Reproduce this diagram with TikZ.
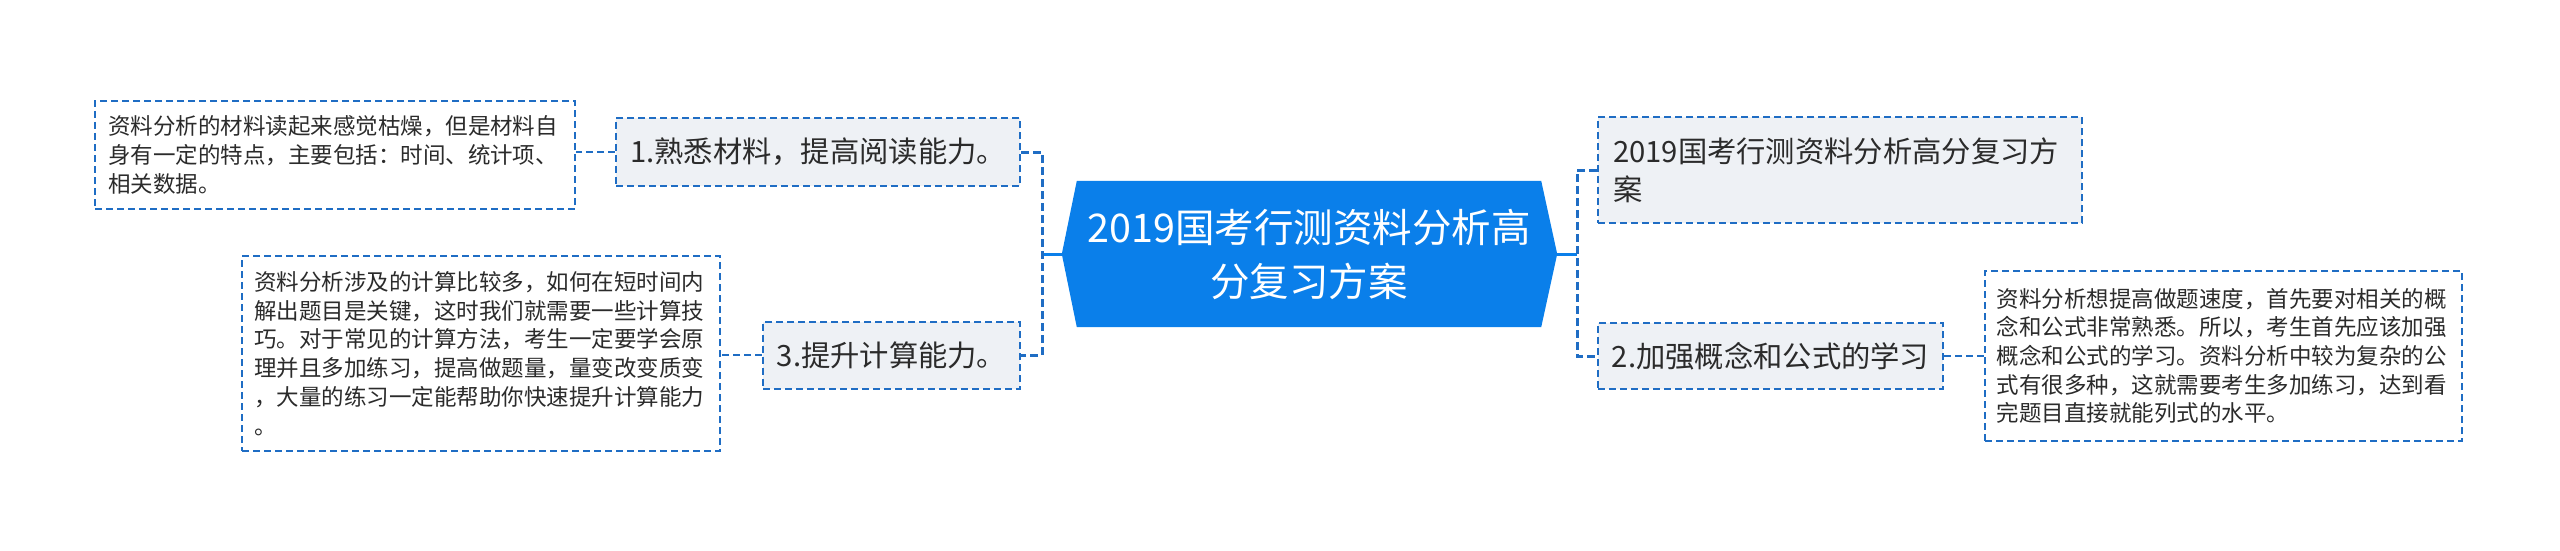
\documentclass[tikz,border=0pt]{standalone}
\usepackage{fontspec}
\setmainfont{Noto Sans CJK SC}
\usetikzlibrary{backgrounds,calc}
\definecolor{rootblue}{HTML}{0A7FEA}
\definecolor{dashblue}{HTML}{1F6DC4}
\definecolor{topicfill}{HTML}{EEF1F5}
\definecolor{inkgrey}{HTML}{2B2B2B}

\begin{document}
\begin{tikzpicture}[x=1pt,y=-1pt]
\tikzstyle{dline}=[draw=dashblue,line width=2pt,dash pattern=on 7pt off 4pt]
\tikzstyle{trunk}=[draw=dashblue,line width=3pt,dash pattern=on 8pt off 4pt]
\tikzstyle{sline}=[draw=rootblue,line width=3pt]
\tikzstyle{root}=[inner sep=0pt,minimum width=464pt,minimum height=146pt,align=center,text=white,font=\fontsize{39.5}{54}\selectfont]
\tikzstyle{topic}=[dline,fill=topicfill,inner sep=0pt,text=inkgrey,font=\fontsize{29.3}{38}\selectfont]
\tikzstyle{leaf}=[dline,fill=white,inner ysep=0pt,text width=454pt,align=left,text=inkgrey,font=\fontsize{22.5}{28.7}\selectfont]
\useasboundingbox (0,0) rectangle (2560,551);

\node[root] (v0) at (1309,254) {2019国考行测资料分析高\\分复习方案};
\begin{pgfonlayer}{background}
\fill[rootblue] (v0.north west) -- (v0.north east) -- ($(v0.east)+(16,0)$) -- (v0.south east) -- (v0.south west) -- ($(v0.west)+(-15,0)$) -- cycle;
\end{pgfonlayer}
\coordinate (a0) at ($(v0.west)+(-15,0)$);
\coordinate (b0) at ($(v0.east)+(16,0)$);
\coordinate (k1) at (1042,254);
\coordinate (k2) at (1577,254);

\node[topic,minimum width=404pt,minimum height=68pt] (v1) at (818,152) {1.熟悉材料，提高阅读能力。};
\node[topic,minimum width=257pt,minimum height=67pt] (v3) at (891.5,355) {3.提升计算能力。};
\node[topic,inner xsep=15pt,text width=454pt,align=left,minimum height=106pt] (v4) at (1840,170) {2019国考行测资料分析高分复习方\\案};
\node[topic,minimum width=345pt,minimum height=66pt] (v2) at (1770.5,356) {2.加强概念和公式的学习};

\node[leaf,inner xsep=13pt,minimum height=108pt] (w1) at (335,155) {资料分析的材料读起来感觉枯燥，但是材料自\\身有一定的特点，主要包括：时间、统计项、\\相关数据。};
\node[leaf,inner xsep=12pt,minimum height=195pt] (w3) at (481,353.5) {资料分析涉及的计算比较多，如何在短时间内\\解出题目是关键，这时我们就需要一些计算技\\巧。对于常见的计算方法，考生一定要学会原\\理并且多加练习，提高做题量，量变改变质变\\，大量的练习一定能帮助你快速提升计算能力\\。};
\node[leaf,inner xsep=11.5pt,minimum height=170pt] (w2) at (2223.5,356) {资料分析想提高做题速度，首先要对相关的概\\念和公式非常熟悉。所以，考生首先应该加强\\概念和公式的学习。资料分析中较为复杂的公\\式有很多种，这就需要考生多加练习，达到看\\完题目直接就能列式的水平。};

\draw[sline] (a0) -- (k1);
\draw[sline] (b0) -- (k2);
\draw[trunk] (v1.east) -| (k1) |- (v3.east);
\draw[trunk] (v4.west) -| (k2) |- (v2.west);
\draw[dline] (v1.west) -- (v1.west -| w1.east);
\draw[dline] (v3.west) -- (v3.west -| w3.east);
\draw[dline] (v2.east) -- (v2.east -| w2.west);
\end{tikzpicture}
\end{document}
